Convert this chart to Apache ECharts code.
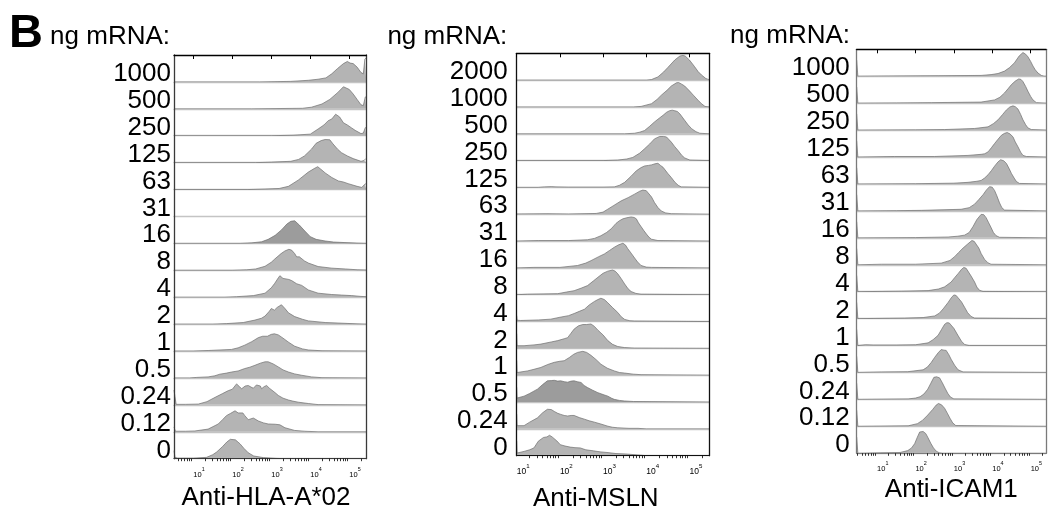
<!DOCTYPE html>
<html><head><meta charset="utf-8">
<script src="https://cdn.jsdelivr.net/npm/echarts@6/dist/echarts.min.js"></script>
<style>html,body{margin:0;padding:0;background:#fff}#c{width:1053px;height:519px}</style>
</head><body><div id="c"></div>
<script>
// Row labels (ng mRNA) per panel, top to bottom
const hlaLabels  = ['1000','500','250','125','63','31','16','8','4','2','1','0.5','0.24','0.12','0'];
const mslnLabels = ['2000','1000','500','250','125','63','31','16','8','4','2','1','0.5','0.24','0'];
const icamLabels = ['1000','500','250','125','63','31','16','8','4','2','1','0.5','0.24','0.12','0'];
// Axis tick positions, expressed as log10(fluorescence)
const majorExponents = [1, 2, 3, 4, 5];
const minorMultipliers = [2, 3, 4, 5, 6, 7, 8, 9];
const axisTitles = ['Anti-HLA-A*02', 'Anti-MSLN', 'Anti-ICAM1'];

// Histograms: [log10 fluorescence, height normalised to row] per row
const hlaRows = [
 [[0.505,0],[2.7,0],[2.75,0.02],[3.5,0.02],[3.95,0.06],[4.2,0.1],[4.4,0.15],[4.55,0.3],[4.7,0.5],[4.85,0.68],[4.95,0.76],[5.02,0.7],[5.1,0.68],[5.2,0.55],[5.3,0.35],[5.36,0.3],[5.4,0.85],[5.436,0.9]],
 [[0.505,0],[2.5,0],[3.8,0.02],[4.03,0.06],[4.3,0.18],[4.5,0.35],[4.7,0.6],[4.85,0.82],[4.9,0.85],[5.0,0.72],[5.1,0.55],[5.2,0.35],[5.3,0.15],[5.36,0.12],[5.41,0.44],[5.436,0.45]],
 [[0.505,0],[3.0,0],[3.56,0.02],[4.0,0.06],[4.2,0.25],[4.35,0.4],[4.46,0.56],[4.55,0.62],[4.65,0.8],[4.69,0.84],[4.75,0.7],[4.85,0.48],[4.95,0.4],[5.05,0.3],[5.15,0.2],[5.3,0.08],[5.36,0.1],[5.41,0.3],[5.436,0.3]],
 [[0.505,0],[2.6,0],[3.0,0.02],[3.5,0.05],[3.7,0.12],[3.85,0.25],[4.03,0.5],[4.15,0.72],[4.28,0.82],[4.38,0.86],[4.5,0.85],[4.58,0.7],[4.7,0.5],[4.8,0.37],[4.95,0.25],[5.1,0.15],[5.3,0.05],[5.38,0.08],[5.42,0.15],[5.436,0.15]],
 [[0.505,0],[2.4,0],[2.84,0.02],[3.2,0.04],[3.44,0.12],[3.69,0.35],[3.95,0.65],[4.1,0.78],[4.19,0.85],[4.3,0.72],[4.38,0.62],[4.55,0.45],[4.72,0.32],[4.85,0.28],[4.97,0.22],[5.2,0.12],[5.32,0.08],[5.4,0.2],[5.436,0.22]],
 [],
 [[0.505,0],[2.2,0],[2.5,0.02],[2.75,0.06],[2.92,0.15],[3.1,0.3],[3.26,0.5],[3.4,0.72],[3.5,0.82],[3.6,0.84],[3.72,0.68],[3.86,0.46],[4.0,0.25],[4.15,0.15],[4.38,0.09],[4.6,0.05],[4.89,0.03],[5.2,0.01],[5.436,0]],
 [[0.505,0],[2.0,0],[2.37,0.02],[2.6,0.05],[2.84,0.15],[3.0,0.3],[3.09,0.42],[3.25,0.62],[3.35,0.72],[3.45,0.78],[3.52,0.75],[3.6,0.62],[3.65,0.5],[3.72,0.5],[3.85,0.35],[3.95,0.27],[4.2,0.14],[4.55,0.08],[4.9,0.05],[5.2,0.02],[5.436,0.01]],
 [[0.505,0],[1.8,0],[2.11,0.02],[2.54,0.06],[2.84,0.15],[3.0,0.35],[3.09,0.52],[3.18,0.72],[3.22,0.8],[3.3,0.7],[3.35,0.65],[3.45,0.66],[3.52,0.62],[3.65,0.5],[3.78,0.44],[3.95,0.27],[4.2,0.15],[4.55,0.1],[4.8,0.08],[5.06,0.06],[5.3,0.03],[5.436,0.02]],
 [[0.505,0],[1.5,0],[1.85,0.02],[2.28,0.06],[2.58,0.15],[2.75,0.22],[2.84,0.3],[2.95,0.48],[3.0,0.58],[3.08,0.52],[3.15,0.62],[3.26,0.72],[3.35,0.58],[3.44,0.42],[3.6,0.28],[3.8,0.18],[3.95,0.12],[4.38,0.06],[4.89,0.03],[5.2,0.01],[5.436,0]],
 [[0.505,0],[1.0,0],[1.38,0.02],[1.98,0.06],[2.15,0.12],[2.32,0.22],[2.5,0.35],[2.67,0.5],[2.78,0.55],[2.9,0.55],[3.0,0.62],[3.08,0.64],[3.18,0.6],[3.3,0.48],[3.45,0.32],[3.6,0.18],[3.8,0.08],[3.95,0.04],[4.3,0.01],[5.436,0]],
 [[0.505,0],[0.9,0],[1.09,0.02],[1.38,0.04],[1.55,0.08],[1.68,0.14],[1.85,0.18],[1.98,0.22],[2.15,0.26],[2.32,0.35],[2.45,0.4],[2.58,0.47],[2.72,0.55],[2.84,0.6],[2.92,0.6],[3.05,0.52],[3.18,0.41],[3.3,0.3],[3.44,0.22],[3.6,0.15],[3.78,0.1],[4.03,0.04],[4.3,0.01],[5.436,0]],
 [[0.505,0.55],[0.53,0.3],[0.56,0.02],[0.8,0.02],[1.13,0.03],[1.35,0.12],[1.56,0.28],[1.75,0.42],[1.9,0.53],[2.0,0.58],[2.11,0.78],[2.18,0.68],[2.24,0.6],[2.33,0.7],[2.41,0.72],[2.48,0.66],[2.54,0.62],[2.62,0.74],[2.67,0.8],[2.72,0.7],[2.75,0.6],[2.82,0.68],[2.88,0.72],[2.95,0.62],[3.0,0.55],[3.1,0.45],[3.18,0.35],[3.3,0.25],[3.44,0.18],[3.55,0.14],[3.69,0.1],[3.95,0.05],[4.2,0.01],[5.436,0]],
 [[0.505,0.18],[0.54,0.02],[0.8,0.02],[1.04,0.03],[1.38,0.1],[1.64,0.29],[1.75,0.45],[1.85,0.6],[1.95,0.68],[2.07,0.78],[2.15,0.7],[2.2,0.64],[2.27,0.7],[2.32,0.6],[2.41,0.45],[2.54,0.51],[2.67,0.4],[2.8,0.33],[2.92,0.29],[3.1,0.28],[3.22,0.26],[3.35,0.15],[3.6,0.05],[3.86,0.02],[4.2,0],[5.436,0]],
 [[0.505,0.3],[0.53,0.05],[0.6,0.02],[1.0,0.02],[1.34,0.05],[1.5,0.15],[1.6,0.25],[1.75,0.45],[1.86,0.62],[1.95,0.72],[2.0,0.73],[2.08,0.7],[2.2,0.55],[2.3,0.38],[2.41,0.22],[2.55,0.1],[2.8,0.04],[3.14,0.01],[3.4,0],[5.436,0]]
];

const mslnRows = [
 [[1.0,0],[4.0,0],[4.12,0.02],[4.27,0.12],[4.4,0.3],[4.5,0.47],[4.66,0.75],[4.78,0.9],[4.85,0.92],[4.9,0.9],[5.0,0.75],[5.12,0.5],[5.2,0.32],[5.28,0.19],[5.38,0.06],[5.43,0.03],[5.46,0.02]],
 [[1.0,0],[3.7,0],[3.88,0.02],[4.12,0.12],[4.25,0.28],[4.35,0.44],[4.48,0.62],[4.58,0.78],[4.7,0.9],[4.75,0.91],[4.82,0.85],[4.89,0.78],[5.0,0.6],[5.09,0.44],[5.2,0.25],[5.28,0.12],[5.36,0.02],[5.46,0]],
 [[1.0,0],[3.5,0],[3.73,0.02],[3.85,0.06],[3.96,0.12],[4.08,0.28],[4.19,0.44],[4.3,0.58],[4.39,0.69],[4.47,0.8],[4.54,0.86],[4.6,0.88],[4.66,0.86],[4.72,0.83],[4.78,0.74],[4.89,0.5],[4.97,0.33],[5.05,0.19],[5.15,0.08],[5.24,0.02],[5.46,0]],
 [[1.0,0],[3.0,0],[3.34,0.02],[3.55,0.06],[3.69,0.12],[3.85,0.28],[3.96,0.44],[4.08,0.62],[4.19,0.81],[4.31,0.9],[4.4,0.9],[4.47,0.88],[4.58,0.69],[4.66,0.52],[4.74,0.37],[4.82,0.2],[4.89,0.1],[5.01,0.02],[5.46,0]],
 [[1.0,0],[1.5,0],[1.64,0.02],[1.8,0.03],[1.91,0.02],[2.2,0.01],[3.0,0.01],[3.26,0.02],[3.38,0.08],[3.5,0.19],[3.65,0.42],[3.77,0.62],[3.88,0.74],[3.96,0.8],[4.05,0.82],[4.12,0.84],[4.2,0.88],[4.27,0.9],[4.33,0.82],[4.39,0.75],[4.5,0.52],[4.58,0.37],[4.66,0.2],[4.74,0.08],[4.81,0.02],[5.46,0]],
 [[1.0,0.01],[1.7,0.02],[2.2,0.01],[2.84,0.03],[3.0,0.08],[3.11,0.19],[3.25,0.33],[3.42,0.5],[3.58,0.62],[3.73,0.75],[3.85,0.86],[3.92,0.9],[4.0,0.88],[4.04,0.84],[4.12,0.65],[4.19,0.44],[4.27,0.25],[4.35,0.12],[4.45,0.05],[4.58,0.02],[5.46,0]],
 [[1.0,0],[1.5,0.02],[2.2,0.02],[2.64,0.05],[2.8,0.1],[2.95,0.2],[3.08,0.32],[3.19,0.46],[3.3,0.66],[3.38,0.76],[3.46,0.83],[3.55,0.87],[3.65,0.9],[3.72,0.88],[3.77,0.83],[3.82,0.68],[3.88,0.54],[3.94,0.4],[4.0,0.27],[4.06,0.15],[4.12,0.07],[4.27,0.02],[5.46,0]],
 [[1.0,0],[1.4,0.02],[2.0,0.02],[2.41,0.09],[2.6,0.18],[2.72,0.27],[2.9,0.42],[3.03,0.52],[3.15,0.65],[3.26,0.77],[3.36,0.86],[3.46,0.92],[3.52,0.85],[3.57,0.72],[3.65,0.55],[3.73,0.37],[3.8,0.22],[3.88,0.09],[4.0,0.03],[4.12,0.02],[5.46,0]],
 [[1.0,0],[1.25,0.02],[1.95,0.04],[2.15,0.1],[2.33,0.15],[2.5,0.25],[2.64,0.34],[2.78,0.52],[2.88,0.65],[3.0,0.8],[3.11,0.88],[3.22,0.92],[3.28,0.88],[3.34,0.78],[3.42,0.6],[3.5,0.4],[3.58,0.22],[3.65,0.12],[3.76,0.05],[3.88,0.02],[5.46,0]],
 [[1.0,0.22],[1.01,0.05],[1.09,0.04],[1.5,0.06],[1.79,0.09],[2.0,0.16],[2.2,0.22],[2.33,0.3],[2.45,0.38],[2.57,0.46],[2.68,0.62],[2.8,0.75],[2.88,0.82],[2.95,0.87],[3.03,0.82],[3.11,0.7],[3.22,0.52],[3.34,0.34],[3.42,0.18],[3.5,0.08],[3.62,0.03],[3.73,0.02],[5.46,0]],
 [[1.0,0.55],[1.01,0.1],[1.05,0.06],[1.17,0.1],[1.4,0.13],[1.56,0.16],[1.8,0.24],[1.95,0.29],[2.1,0.36],[2.18,0.4],[2.25,0.55],[2.33,0.72],[2.43,0.84],[2.53,0.89],[2.62,0.89],[2.72,0.91],[2.8,0.82],[2.88,0.68],[3.0,0.5],[3.11,0.29],[3.22,0.15],[3.34,0.07],[3.5,0.03],[3.73,0.01],[5.46,0]],
 [[1.0,0.55],[1.01,0.1],[1.05,0.08],[1.25,0.16],[1.4,0.22],[1.56,0.29],[1.72,0.4],[1.87,0.48],[2.0,0.52],[2.1,0.54],[2.22,0.66],[2.32,0.78],[2.41,0.85],[2.53,0.89],[2.62,0.85],[2.72,0.74],[2.84,0.58],[2.95,0.41],[3.1,0.26],[3.26,0.16],[3.38,0.1],[3.5,0.08],[3.7,0.04],[3.88,0.02],[5.46,0]],
 [[1.0,0.55],[1.01,0.15],[1.05,0.12],[1.17,0.22],[1.3,0.32],[1.48,0.48],[1.6,0.65],[1.71,0.79],[1.8,0.8],[1.87,0.81],[1.95,0.78],[2.02,0.79],[2.1,0.76],[2.18,0.74],[2.26,0.78],[2.33,0.79],[2.4,0.76],[2.49,0.73],[2.56,0.62],[2.64,0.54],[2.76,0.44],[2.88,0.35],[3.0,0.28],[3.11,0.22],[3.2,0.14],[3.26,0.1],[3.38,0.06],[3.5,0.04],[3.7,0.02],[5.46,0]],
 [[1.0,0.55],[1.01,0.12],[1.05,0.08],[1.17,0.12],[1.3,0.25],[1.48,0.41],[1.6,0.6],[1.71,0.73],[1.8,0.72],[1.87,0.65],[1.95,0.58],[2.02,0.54],[2.1,0.5],[2.18,0.48],[2.26,0.5],[2.33,0.5],[2.45,0.42],[2.57,0.36],[2.68,0.3],[2.8,0.25],[2.95,0.18],[3.11,0.1],[3.22,0.06],[3.34,0.04],[3.6,0.02],[3.81,0.02],[4.0,0],[5.46,0]],
 [[1.0,0.55],[1.01,0.1],[1.05,0.08],[1.17,0.16],[1.3,0.22],[1.4,0.29],[1.5,0.54],[1.62,0.68],[1.7,0.7],[1.76,0.76],[1.82,0.7],[1.85,0.68],[1.93,0.55],[2.01,0.41],[2.12,0.36],[2.24,0.32],[2.35,0.3],[2.47,0.29],[2.6,0.22],[2.78,0.18],[2.95,0.14],[3.09,0.12],[3.3,0.08],[3.56,0.06],[3.87,0.02],[4.0,0],[5.46,0]]
];

const icamRows = [
 [[0.47,0.6],[0.5,0],[1.29,0.01],[2.59,0.02],[3.71,0.03],[3.97,0.06],[4.15,0.1],[4.32,0.19],[4.45,0.32],[4.58,0.5],[4.7,0.75],[4.8,0.88],[4.87,0.82],[4.93,0.72],[5.0,0.55],[5.06,0.38],[5.12,0.24],[5.19,0.12],[5.28,0.03],[5.35,0],[5.4,0]],
 [[0.47,0.6],[0.5,0],[1.5,0.01],[2.41,0.02],[3.71,0.04],[4.06,0.12],[4.2,0.22],[4.32,0.38],[4.42,0.55],[4.5,0.69],[4.6,0.82],[4.69,0.9],[4.75,0.88],[4.8,0.8],[4.87,0.62],[4.93,0.44],[5.0,0.25],[5.06,0.12],[5.15,0.02],[5.4,0]],
 [[0.47,0.6],[0.5,0],[2.0,0.01],[2.76,0.02],[3.54,0.06],[3.89,0.12],[4.03,0.24],[4.15,0.38],[4.27,0.58],[4.37,0.75],[4.46,0.86],[4.54,0.9],[4.6,0.87],[4.67,0.78],[4.74,0.58],[4.8,0.38],[4.87,0.2],[4.93,0.08],[5.02,0.02],[5.4,0]],
 [[0.47,0.6],[0.5,0],[1.46,0.02],[2.5,0.02],[3.37,0.06],[3.71,0.1],[3.8,0.12],[3.89,0.19],[3.98,0.35],[4.06,0.5],[4.15,0.66],[4.24,0.81],[4.32,0.88],[4.39,0.91],[4.46,0.86],[4.54,0.75],[4.6,0.56],[4.67,0.38],[4.74,0.18],[4.8,0.06],[4.89,0.02],[5.4,0]],
 [[0.47,0.6],[0.5,0],[2.0,0.01],[3.0,0.03],[3.37,0.06],[3.6,0.1],[3.71,0.13],[3.8,0.22],[3.89,0.34],[3.98,0.5],[4.06,0.66],[4.15,0.82],[4.22,0.9],[4.3,0.86],[4.37,0.76],[4.44,0.57],[4.5,0.39],[4.57,0.22],[4.63,0.09],[4.71,0.02],[5.4,0]],
 [[0.47,0.6],[0.5,0],[1.5,0.01],[2.15,0.02],[3.19,0.06],[3.4,0.12],[3.54,0.25],[3.65,0.42],[3.76,0.6],[3.85,0.78],[3.93,0.9],[4.0,0.88],[4.06,0.76],[4.12,0.56],[4.19,0.3],[4.25,0.12],[4.32,0.03],[5.4,0]],
 [[0.47,0.6],[0.5,0],[2.0,0.01],[2.85,0.03],[3.1,0.06],[3.28,0.1],[3.4,0.2],[3.5,0.42],[3.6,0.68],[3.71,0.87],[3.78,0.86],[3.84,0.75],[3.9,0.58],[3.97,0.38],[4.03,0.2],[4.1,0.08],[4.19,0.02],[5.4,0]],
 [[0.47,0.6],[0.5,0],[1.11,0.02],[2.0,0.02],[2.67,0.06],[2.9,0.16],[3.02,0.3],[3.12,0.45],[3.24,0.62],[3.36,0.77],[3.47,0.9],[3.53,0.87],[3.58,0.8],[3.65,0.62],[3.71,0.42],[3.8,0.2],[3.89,0.07],[3.97,0.02],[5.4,0]],
 [[0.47,0.6],[0.5,0],[1.63,0.02],[2.33,0.04],[2.6,0.1],[2.76,0.18],[2.93,0.36],[3.02,0.52],[3.11,0.67],[3.2,0.83],[3.26,0.9],[3.32,0.87],[3.37,0.8],[3.45,0.58],[3.54,0.36],[3.6,0.17],[3.67,0.05],[3.76,0.01],[5.4,0]],
 [[0.47,0.6],[0.5,0],[1.72,0.02],[2.2,0.04],[2.5,0.1],[2.62,0.2],[2.72,0.36],[2.85,0.6],[2.93,0.77],[3.0,0.88],[3.06,0.86],[3.11,0.81],[3.2,0.62],[3.28,0.42],[3.36,0.22],[3.45,0.08],[3.54,0.02],[5.4,0]],
 [[0.47,0.6],[0.5,0],[0.7,0.03],[0.9,0.02],[1.5,0.02],[2.0,0.03],[2.33,0.1],[2.46,0.22],[2.59,0.38],[2.68,0.6],[2.76,0.79],[2.82,0.85],[2.88,0.84],[2.93,0.8],[3.0,0.64],[3.11,0.37],[3.2,0.16],[3.28,0.04],[3.4,0],[5.4,0]],
 [[0.47,0.6],[0.5,0],[1.11,0.02],[1.8,0.03],[2.2,0.1],[2.31,0.2],[2.41,0.37],[2.5,0.56],[2.59,0.73],[2.67,0.85],[2.74,0.83],[2.8,0.82],[2.87,0.66],[2.93,0.49],[3.02,0.27],[3.11,0.1],[3.24,0.02],[5.4,0]],
 [[0.47,0.6],[0.5,0],[1.81,0.02],[2.0,0.05],[2.12,0.1],[2.22,0.2],[2.32,0.38],[2.4,0.6],[2.48,0.82],[2.55,0.84],[2.63,0.8],[2.7,0.62],[2.77,0.42],[2.84,0.23],[2.91,0.09],[3.0,0.02],[5.4,0]],
 [[0.47,0.6],[0.5,0],[1.81,0.02],[2.05,0.1],[2.18,0.22],[2.32,0.42],[2.45,0.63],[2.54,0.79],[2.6,0.85],[2.68,0.8],[2.76,0.67],[2.83,0.49],[2.9,0.3],[2.97,0.13],[3.05,0.03],[5.4,0]],
 [[0.47,0.6],[0.5,0],[1.1,0.02],[1.6,0.03],[1.8,0.1],[1.9,0.2],[1.98,0.36],[2.05,0.6],[2.11,0.79],[2.2,0.81],[2.27,0.73],[2.33,0.57],[2.4,0.37],[2.47,0.2],[2.54,0.08],[2.62,0.02],[2.7,0],[5.4,0]]
];

const FONT = '"Liberation Sans", Arial, Helvetica, sans-serif';
const panels = [
  {labels: hlaLabels, rows: hlaRows, dark: [6], left: 174, width: 192.3, top: 55, height: 403.7, xmin: 0.505, xmax: 5.436, border: '#3a3a3a', labelGap: 3, tickFont: 7.5},
  {labels: mslnLabels, rows: mslnRows, dark: [12], left: 516.7, width: 192.6, top: 53.3, height: 402.4, xmin: 1.0, xmax: 5.46, border: '#111111', labelGap: 9, tickFont: 8.5},
  {labels: icamLabels, rows: icamRows, dark: [], left: 856.7, width: 189.3, top: 49.3, height: 404, xmin: 0.47, xmax: 5.4, border: '#7a7a7a', labelGap: 7, tickFont: 7.5}
];
const LABEL_SHIFT = 0.7; // label anchor inside each row band (rows are 1 unit tall)

const grid = [], xAxis = [], yAxis = [], series = [];
const noAxisBits = {axisTick: {show: false}, axisLabel: {show: false}, splitLine: {show: false}};
panels.forEach(function (p) {
  const n = p.labels.length, rh = p.height / n;
  p.rows.forEach(function (data, r) {
    const gi = grid.length;
    grid.push({left: p.left, top: p.top + r * rh, width: p.width, height: rh});
    const xi = xAxis.length;
    xAxis.push(Object.assign({gridIndex: gi, type: 'value', min: p.xmin, max: p.xmax,
      axisLine: {show: true, lineStyle: {color: '#c4c4c4', width: 1.4}}}, noAxisBits));
    const yi = yAxis.length;
    yAxis.push({gridIndex: gi, type: 'value', min: 0, max: 1, show: false});
    series.push({type: 'line', xAxisIndex: xi, yAxisIndex: yi, data: data, symbol: 'none', silent: true,
      lineStyle: {color: '#6e6e6e', width: 0.7},
      areaStyle: {color: p.dark.indexOf(r) >= 0 ? '#9c9c9c' : '#b4b4b4', opacity: 1}});
  });
  const minor = [];
  for (let d = 0; d <= 5; d++) minorMultipliers.forEach(function (k) {
    const v = d + Math.log10(k);
    if (v > p.xmin && v < p.xmax) minor.push(v);
  });
  // frame grid: bottom axis with decades + labels, top border, left labels, right border
  let gi = grid.length;
  grid.push({left: p.left, top: p.top, width: p.width, height: p.height});
  xAxis.push({gridIndex: gi, type: 'value', position: 'bottom', min: p.xmin, max: p.xmax, z: 10,
    axisLine: {show: true, lineStyle: {color: '#000', width: 1.3}},
    axisTick: {show: true, customValues: majorExponents, length: 4, lineStyle: {color: '#000', width: 1}},
    axisLabel: {show: true, customValues: majorExponents, align: 'left', margin: 8,
      formatter: function (v) { return '{b|10}{s|' + Math.round(v) + '}'; },
      rich: {b: {fontSize: p.tickFont, fontFamily: FONT, color: '#000', lineHeight: 12, verticalAlign: 'bottom'},
             s: {fontSize: p.tickFont * 0.72, fontFamily: FONT, color: '#000', lineHeight: 12, verticalAlign: 'top'}}},
    splitLine: {show: false}});
  xAxis.push(Object.assign({gridIndex: gi, type: 'value', position: 'top', min: p.xmin, max: p.xmax, z: 10,
    axisLine: {show: true, lineStyle: {color: p.border, width: 1.2}}}, noAxisBits));
  yAxis.push({gridIndex: gi, type: 'value', min: 0, max: n, inverse: true, position: 'left', z: 10,
    axisLine: {show: true, lineStyle: {color: p.border, width: 1.3}},
    axisTick: {show: false},
    axisLabel: {show: true, customValues: p.labels.map(function (_, i) { return i + LABEL_SHIFT; }),
      formatter: function (v) { return p.labels[Math.round(v - LABEL_SHIFT)]; },
      fontSize: 26, fontFamily: FONT, color: '#000', margin: p.labelGap},
    splitLine: {show: false}});
  yAxis.push(Object.assign({gridIndex: gi, type: 'value', position: 'right', min: 0, max: 1, z: 10,
    axisLine: {show: true, lineStyle: {color: p.border, width: 1.3}}}, noAxisBits));
  // separate grid (same box) for the minor ticks between decades
  gi = grid.length;
  grid.push({left: p.left, top: p.top, width: p.width, height: p.height});
  xAxis.push({gridIndex: gi, type: 'value', position: 'bottom', min: p.xmin, max: p.xmax, z: 10,
    axisLine: {show: false},
    axisTick: {show: true, customValues: minor, length: 2.5, lineStyle: {color: '#000', width: 0.8}},
    axisLabel: {show: false}, splitLine: {show: false}});
  yAxis.push({gridIndex: gi, type: 'value', min: 0, max: 1, show: false});
});

function txt(text, x, y, size, align, weight) {
  return {type: 'text', x: x, y: y, silent: true,
    style: {text: text, fontSize: size, fontFamily: FONT, fontWeight: weight || 'normal', fill: '#000', align: align, verticalAlign: 'middle'}};
}
const graphic = [
  txt('B', 9, 33.7, 47, 'left', 'bold'),
  txt('ng mRNA:', 170, 36.7, 26, 'right'),
  txt('ng mRNA:', 507.3, 37.2, 26, 'right'),
  txt('ng mRNA:', 850, 35.7, 26, 'right'),
  txt(axisTitles[0], 266, 497.5, 26, 'center'),
  txt(axisTitles[1], 595.8, 499, 26, 'center'),
  txt(axisTitles[2], 951.3, 490, 26, 'center')
];

const chart = echarts.init(document.getElementById('c'), null, {renderer: 'canvas'});
chart.setOption({animation: false, backgroundColor: '#fff', grid: grid, xAxis: xAxis, yAxis: yAxis, series: series, graphic: graphic});
</script>
</body></html>
